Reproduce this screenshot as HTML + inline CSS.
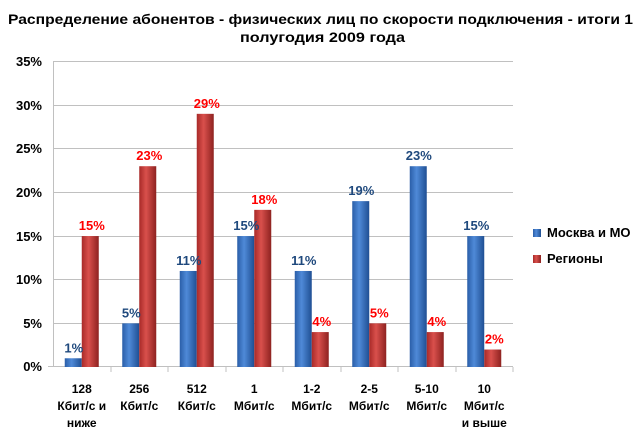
<!DOCTYPE html>
<html><head><meta charset="utf-8"><style>
body{margin:0;background:#fff;}
svg text{font-family:"Liberation Sans","DejaVu Sans",sans-serif;}
</style></head><body>
<svg width="641" height="440" xmlns="http://www.w3.org/2000/svg">
<defs>
<linearGradient id="b" x1="0" x2="1"><stop offset="0" stop-color="#2a5ea8"/><stop offset="0.4" stop-color="#4f8ad8"/><stop offset="1" stop-color="#1f4f93"/></linearGradient>
<linearGradient id="r" x1="0" x2="1"><stop offset="0" stop-color="#a82a28"/><stop offset="0.4" stop-color="#d9504c"/><stop offset="1" stop-color="#8e2220"/></linearGradient>
</defs>
<text x="8" y="24" font-size="14" font-weight="bold" fill="#000" textLength="625" lengthAdjust="spacingAndGlyphs">Распределение абонентов - физических лиц по скорости подключения - итоги 1</text>
<text x="240" y="42" font-size="14" font-weight="bold" fill="#000" textLength="165" lengthAdjust="spacingAndGlyphs">полугодия 2009 года</text>
<g stroke="#c0c0c0" stroke-width="1">
<line x1="53" x2="513" y1="61.5" y2="61.5"/><line x1="53" x2="513" y1="105.5" y2="105.5"/>
<line x1="53" x2="513" y1="148.5" y2="148.5"/><line x1="53" x2="513" y1="192.5" y2="192.5"/>
<line x1="53" x2="513" y1="236.5" y2="236.5"/><line x1="53" x2="513" y1="279.5" y2="279.5"/>
<line x1="53" x2="513" y1="323.5" y2="323.5"/>
<line x1="53.5" x2="53.5" y1="61" y2="367"/>
<line x1="48" x2="513" y1="366.5" y2="366.5"/>
<line x1="111" x2="111" y1="367" y2="372"/><line x1="168" x2="168" y1="367" y2="372"/><line x1="226" x2="226" y1="367" y2="372"/><line x1="283" x2="283" y1="367" y2="372"/><line x1="341" x2="341" y1="367" y2="372"/><line x1="398" x2="398" y1="367" y2="372"/><line x1="456" x2="456" y1="367" y2="372"/><line x1="513" x2="513" y1="367" y2="372"/>
</g>
<g font-size="13" font-weight="bold" fill="#000" text-anchor="end">
<text x="42" y="66">35%</text><text x="42" y="110">30%</text><text x="42" y="153">25%</text><text x="42" y="197">20%</text><text x="42" y="241">15%</text><text x="42" y="284">10%</text><text x="42" y="328">5%</text><text x="42" y="371">0%</text>
</g>
<g fill="url(#b)">
<rect x="64.75" y="358.27" width="17" height="8.73"/>
<rect x="122.25" y="323.35" width="17" height="43.65"/>
<rect x="179.75" y="270.97" width="17" height="96.03"/>
<rect x="237.25" y="236.05" width="17" height="130.95"/>
<rect x="294.75" y="270.97" width="17" height="96.03"/>
<rect x="352.25" y="201.13" width="17" height="165.87"/>
<rect x="409.75" y="166.21" width="17" height="200.79"/>
<rect x="467.25" y="236.05" width="17" height="130.95"/>
</g>
<g fill="url(#r)">
<rect x="81.75" y="236.05" width="17" height="130.95"/>
<rect x="139.25" y="166.21" width="17" height="200.79"/>
<rect x="196.75" y="113.83" width="17" height="253.17"/>
<rect x="254.25" y="209.86" width="17" height="157.14"/>
<rect x="311.75" y="332.08" width="17" height="34.92"/>
<rect x="369.25" y="323.35" width="17" height="43.65"/>
<rect x="426.75" y="332.08" width="17" height="34.92"/>
<rect x="484.25" y="349.54" width="17" height="17.46"/>
</g>
<g font-size="13" font-weight="bold" fill="#1f497d" text-anchor="middle">
<text x="73.75" y="352.27">1%</text>
<text x="131.25" y="317.35">5%</text>
<text x="188.75" y="264.97">11%</text>
<text x="246.25" y="230.05">15%</text>
<text x="303.75" y="264.97">11%</text>
<text x="361.25" y="195.13">19%</text>
<text x="418.75" y="160.21">23%</text>
<text x="476.25" y="230.05">15%</text>
</g>
<g font-size="13" font-weight="bold" fill="#ff0000" text-anchor="middle">
<text x="91.75" y="230.05">15%</text>
<text x="149.25" y="160.21">23%</text>
<text x="206.75" y="107.83">29%</text>
<text x="264.25" y="203.86">18%</text>
<text x="321.75" y="326.08">4%</text>
<text x="379.25" y="317.35">5%</text>
<text x="436.75" y="326.08">4%</text>
<text x="494.25" y="343.54">2%</text>
</g>
<g font-size="12" font-weight="bold" fill="#000" text-anchor="middle">
<text x="81.75" y="393">128</text><text x="81.75" y="410">Кбит/с и</text><text x="81.75" y="427">ниже</text>
<text x="139.25" y="393">256</text><text x="139.25" y="410">Кбит/с</text>
<text x="196.75" y="393">512</text><text x="196.75" y="410">Кбит/с</text>
<text x="254.25" y="393">1</text><text x="254.25" y="410">Мбит/с</text>
<text x="311.75" y="393">1-2</text><text x="311.75" y="410">Мбит/с</text>
<text x="369.25" y="393">2-5</text><text x="369.25" y="410">Мбит/с</text>
<text x="426.75" y="393">5-10</text><text x="426.75" y="410">Мбит/с</text>
<text x="484.25" y="393">10</text><text x="484.25" y="410">Мбит/с</text><text x="484.25" y="427">и выше</text>
</g>
<rect x="533" y="229" width="8" height="8" fill="url(#b)"/>
<text x="547" y="237" font-size="13" font-weight="bold" fill="#000">Москва и МО</text>
<rect x="533" y="255" width="8" height="8" fill="url(#r)"/>
<text x="547" y="263" font-size="13" font-weight="bold" fill="#000">Регионы</text>
</svg>
</body></html>
